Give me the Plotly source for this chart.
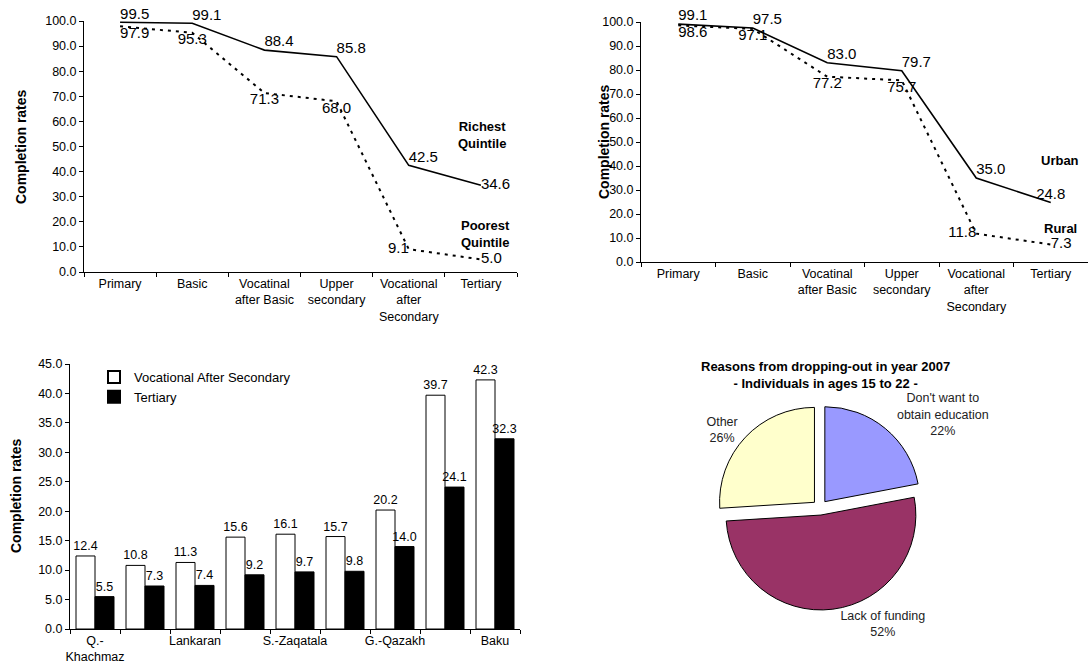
import plotly.graph_objects as go

W, H = 1088, 671
FONT = "Arial, Liberation Sans, sans-serif"

# ---------- data ----------
levels = ["Primary", "Basic", "Vocatinal<br>after Basic", "Upper<br>secondary",
          "Vocational<br>after<br>Secondary", "Tertiary"]
richest = [99.5, 99.1, 88.4, 85.8, 42.5, 34.6]
poorest = [97.9, 95.3, 71.3, 68.0, 9.1, 5.0]
urban = [99.1, 97.5, 83.0, 79.7, 35.0, 24.8]
rural = [98.6, 97.1, 77.2, 75.7, 11.8, 7.3]

regions = ["Q.-Khachmaz", "Absheron", "Lankaran", "Aran", "S.-Zaqatala",
           "Sh.-Shirvan", "G.-Qazakh", "Nakhchivan", "Baku"]
region_ticks = ["Q.-<br>Khachmaz", "", "Lankaran", "", "S.-Zaqatala", "", "G.-Qazakh", "", "Baku"]
voc_after_sec = [12.4, 10.8, 11.3, 15.6, 16.1, 15.7, 20.2, 39.7, 42.3]
tertiary = [5.5, 7.3, 7.4, 9.2, 9.7, 9.8, 14.0, 24.1, 32.3]

reasons = ["Don't want to<br>obtain education", "Lack of funding", "Other"]
reason_share = [22, 52, 26]
reason_colors = ["#9999FF", "#993366", "#FFFFCC"]


def px_x(p):
    return p / W


def px_y(p):
    return 1 - p / H


fig = go.Figure()

LBL = dict(size=15, color="black", family=FONT)

# ---------- top-left: quintiles ----------
fig.add_trace(go.Scatter(
    x=levels, y=richest, mode="lines+text", xaxis="x", yaxis="y",
    line=dict(color="black", width=1.6),
    text=[f"{v:.1f}" for v in richest],
    textposition=["top right"] * 5 + ["middle right"],
    textfont=LBL, cliponaxis=False, showlegend=False, hoverinfo="x+y"))
fig.add_trace(go.Scatter(
    x=levels, y=poorest, mode="lines+text", xaxis="x", yaxis="y",
    line=dict(color="black", width=2, dash="3px,5px"),
    text=[f"{v:.1f}" for v in poorest],
    textposition=["bottom right", "bottom center", "bottom center", "bottom center",
                  "middle left", "middle right"],
    textfont=LBL, cliponaxis=False, showlegend=False, hoverinfo="x+y"))

# ---------- top-right: urban / rural ----------
fig.add_trace(go.Scatter(
    x=levels, y=urban, mode="lines+text", xaxis="x2", yaxis="y2",
    line=dict(color="black", width=1.6),
    text=[f"{v:.1f}" for v in urban],
    textposition=["top right"] * 5 + ["top center"],
    textfont=LBL, cliponaxis=False, showlegend=False, hoverinfo="x+y"))
fig.add_trace(go.Scatter(
    x=levels, y=rural, mode="lines+text", xaxis="x2", yaxis="y2",
    line=dict(color="black", width=2, dash="3px,5px"),
    text=[f"{v:.1f}" for v in rural],
    textposition=["bottom right", "bottom center", "bottom center", "bottom center",
                  "middle left", "middle right"],
    textfont=LBL, cliponaxis=False, showlegend=False, hoverinfo="x+y"))

# ---------- bottom-left: regions bars ----------
fig.add_trace(go.Bar(
    x=regions, y=voc_after_sec, name="Vocational After Secondary",
    xaxis="x3", yaxis="y3",
    marker=dict(color="white", line=dict(color="black", width=1)),
    text=[f"{v:.1f}" for v in voc_after_sec], textposition="outside",
    constraintext="none",
    textfont=dict(size=12.5, color="black", family=FONT), cliponaxis=False))
fig.add_trace(go.Bar(
    x=regions, y=tertiary, name="Tertiary",
    xaxis="x3", yaxis="y3",
    marker=dict(color="black", line=dict(color="black", width=1)),
    text=[f"{v:.1f}" for v in tertiary], textposition="outside",
    constraintext="none",
    textfont=dict(size=12.5, color="black", family=FONT), cliponaxis=False))

# ---------- bottom-right: pie ----------
fig.add_trace(go.Pie(
    labels=reasons, values=reason_share, sort=False, direction="clockwise",
    rotation=0, marker=dict(colors=reason_colors, line=dict(color="black", width=1)),
    pull=[0.08, 0.08, 0.08], textinfo="label+percent", textposition="outside",
    textfont=dict(size=12.5, color="#222", family=FONT),
    domain=dict(x=[px_x(715), px_x(925)], y=[px_y(610), px_y(405)]), showlegend=False))

axis_common = dict(showline=True, linecolor="black", linewidth=1, showgrid=False,
                   zeroline=False, ticks="outside", tickcolor="black", ticklen=4,
                   automargin=False,
                   tickfont=dict(size=12.5, color="black", family=FONT))

fig.update_layout(
    width=W, height=H, margin=dict(l=0, r=0, t=0, b=0, autoexpand=False),
    paper_bgcolor="white", plot_bgcolor="white",
    font=dict(family=FONT, color="black"),
    barmode="group", bargap=0.24, bargroupgap=0,
    xaxis=dict(**axis_common, domain=[px_x(84), px_x(517)], anchor="y",
               type="category", range=[-0.5, 5.5], tickson="boundaries", tickangle=0),
    yaxis=dict(**axis_common, domain=[px_y(272), px_y(21)], anchor="x",
               range=[0, 100], dtick=10, tickformat=".1f"),
    xaxis2=dict(**axis_common, domain=[px_x(641), 1.0], anchor="y2",
                type="category", range=[-0.5, 5.5], tickson="boundaries", tickangle=0),
    yaxis2=dict(**axis_common, domain=[px_y(262), px_y(22)], anchor="x2",
                range=[0, 100], dtick=10, tickformat=".1f"),
    xaxis3=dict(**axis_common, domain=[px_x(70), px_x(520)], anchor="y3",
                type="category", range=[-0.5, 8.5], tickson="boundaries", tickangle=0,
                tickmode="array", tickvals=regions, ticktext=region_ticks),
    yaxis3=dict(**axis_common, domain=[px_y(629), px_y(364)], anchor="x3",
                range=[0, 45], dtick=5, tickformat=".1f"),
    legend=dict(x=px_x(94), y=px_y(362), xanchor="left", yanchor="top",
                bgcolor="rgba(0,0,0,0)", font=dict(size=13, family=FONT),
                itemsizing="constant", tracegroupgap=4),
)

ann = [
    ("<b>Richest<br>Quintile</b>", 482, 135, 0),
    ("<b>Poorest<br>Quintile</b>", 485, 234, 0),
    ("<b>Urban</b>", 1060, 161, 0),
    ("<b>Rural</b>", 1060, 228, 0),
    ("<b>Reasons from dropping-out in year 2007<br>- Individuals in ages 15 to 22 -</b>", 825, 375, 0),
    ("<b>Completion rates</b>", 21, 147, -90),
    ("<b>Completion rates</b>", 604, 142, -90),
    ("<b>Completion rates</b>", 16, 496, -90),
]
for txt, ax, ay, ang in ann:
    fig.add_annotation(text=txt, x=px_x(ax), y=px_y(ay), xref="paper", yref="paper",
                       xanchor="center", yanchor="middle", showarrow=False,
                       textangle=ang, font=dict(size=13 if ang == 0 else 14, family=FONT),
                       align="center")

fig.write_html(
    "out.html",
    config={"displayModeBar": False},
    post_script="document.body.style.margin='0';document.body.style.overflow='hidden';",
)
